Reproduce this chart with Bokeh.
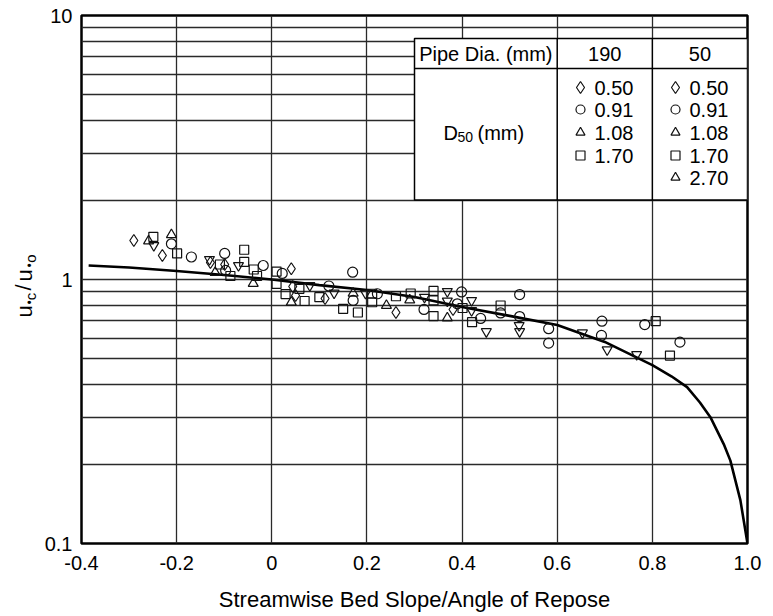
import numpy as np
from bokeh.plotting import figure
from bokeh.layouts import row
from bokeh.models import Range1d, FixedTicker, CustomJSTickFormatter, Label
from bokeh.embed import file_html
from bokeh.resources import INLINE

# ---------------- data ----------------
x_ticks = [-0.4, -0.2, 0.0, 0.2, 0.4, 0.6, 0.8, 1.0]
y_ticks = [0.1, 1, 10]
y_minor = [0.2, 0.3, 0.4, 0.5, 0.6, 0.7, 0.8, 0.9, 2, 3, 4, 5, 6, 7, 8, 9]

curve_x = [-0.385, -0.3, -0.2, -0.1, 0.0, 0.1, 0.2, 0.3, 0.4, 0.5, 0.6, 0.7,
           0.8, 0.84, 0.873, 0.9, 0.922, 0.95, 0.964, 0.985, 1.0]
curve_y = [1.13, 1.11, 1.077, 1.04, 1.0, 0.952, 0.912, 0.858, 0.787, 0.728, 0.672, 0.58,
           0.474, 0.43, 0.391, 0.342, 0.301, 0.238, 0.206, 0.146, 0.1]

diamond_x = [-0.290, -0.230, -0.129, -0.099, 0.041, 0.044, 0.050, 0.112, 0.261, 0.381]
diamond_y = [1.405, 1.233, 1.160, 1.140, 1.098, 0.941, 0.870, 0.847, 0.750, 0.770]

circle_x = [-0.211, -0.169, -0.099, -0.097, -0.018, 0.022, 0.120, 0.170, 0.171, 0.222,
            0.320, 0.399, 0.390, 0.439, 0.481, 0.521, 0.521, 0.582, 0.582, 0.694,
            0.693, 0.784, 0.858]
circle_y = [1.365, 1.217, 1.255, 1.082, 1.130, 1.054, 0.945, 1.066, 0.833, 0.883,
            0.770, 0.897, 0.809, 0.712, 0.747, 0.877, 0.724, 0.651, 0.574, 0.695,
            0.614, 0.675, 0.579]

triangle_x = [-0.259, -0.211, -0.119, -0.039, 0.041, 0.171, 0.241, 0.290, 0.369]
triangle_y = [1.399, 1.478, 1.063, 0.966, 0.820, 0.887, 0.797, 0.836, 0.715]

square_x = [-0.249, -0.199, -0.109, -0.087, -0.058, -0.058, -0.038, -0.031, 0.010, 0.010,
            0.029, 0.058, 0.069, 0.100, 0.150, 0.181, 0.211, 0.211, 0.261, 0.292,
            0.340, 0.340, 0.340, 0.401, 0.421, 0.481, 0.807, 0.837]
square_y = [1.451, 1.255, 1.140, 1.031, 1.296, 1.167, 1.091, 1.031, 1.072, 0.962,
            0.881, 0.922, 0.829, 0.857, 0.774, 0.750, 0.883, 0.820, 0.864, 0.885,
            0.905, 0.833, 0.727, 0.780, 0.689, 0.797, 0.695, 0.515]

invtri_x = [-0.248, -0.131, -0.070, 0.080, 0.131, 0.197, 0.321, 0.369, 0.369, 0.420,
            0.420, 0.451, 0.520, 0.521, 0.653, 0.705, 0.767]
invtri_y = [1.345, 1.191, 1.130, 0.949, 0.889, 0.887, 0.857, 0.901, 0.829, 0.833,
            0.763, 0.635, 0.670, 0.635, 0.628, 0.542, 0.520]

# table (legend) contents
pipe_header = "Pipe Dia. (mm)"
pipe_dias = ["190", "50"]
d50_190 = ["0.50", "0.91", "1.08", "1.70"]
mk_190 = ["diamond", "circle", "triangle", "square"]
d50_50 = ["0.50", "0.91", "1.08", "1.70", "2.70"]
mk_50 = ["diamond", "circle", "triangle", "square", "triangle"]

# ---------------- layout helpers (page pixels -> data, for annotations) ----------------
FONT = "Liberation Sans"
W, H = 772, 615          # whole page content
LW = 41                  # narrow left panel holding the rotated y title
FL, FR, FT, FB = 81, 747, 15, 543   # main frame edges, page pixels
MW = W - LW


def px2x(px):
    return -0.4 + (px - FL) / (FR - FL) * 1.4


def py2y(py):
    return 10 ** (1 - (py - FT) / (FB - FT) * 2)


p = figure(width=MW, height=H, x_range=Range1d(-0.4, 1.0), y_range=Range1d(0.1, 10),
           y_axis_type="log", output_backend="svg", toolbar_location=None,
           min_border_left=FL - LW, min_border_right=W - FR, min_border_top=FT,
           min_border_bottom=H - FB)
p.outline_line_color = "black"
p.outline_line_width = 2.5
p.outline_line_alpha = 1.0
p.background_fill_color = "white"
p.border_fill_color = "white"

p.xaxis.ticker = FixedTicker(ticks=x_ticks)
p.yaxis.ticker = FixedTicker(ticks=y_ticks, minor_ticks=y_minor)
p.xaxis.formatter = CustomJSTickFormatter(
    code="return Math.abs(tick) < 1e-9 ? '0' : tick.toFixed(1);")
p.yaxis.formatter = CustomJSTickFormatter(
    code="return tick >= 1 ? tick.toFixed(0) : tick.toFixed(1);")

for ax in (p.xaxis, p.yaxis):
    ax.axis_line_color = None
    ax.major_tick_line_color = None
    ax.minor_tick_line_color = None
    ax.major_label_text_font = FONT
    ax.major_label_text_font_size = "20px"
    ax.major_label_text_color = "black"
    ax.major_label_standoff = 6
p.yaxis.major_label_standoff = 3

p.xaxis.axis_label = "Streamwise Bed Slope/Angle of Repose"
p.xaxis.axis_label_text_font = FONT
p.xaxis.axis_label_text_font_size = "22px"
p.xaxis.axis_label_text_font_style = "normal"
p.xaxis.axis_label_text_color = "black"
p.xaxis.axis_label_standoff = 14

for g in (p.xgrid, p.ygrid):
    g.grid_line_color = "#2a2a2a"
    g.grid_line_width = 1.3
    g.grid_line_alpha = 1.0
p.ygrid.minor_grid_line_color = "#2a2a2a"
p.ygrid.minor_grid_line_width = 1.3

# ---------------- table box ----------------
T_L, T_R, T_TOP, T_ROW, T_BOT = 0.3, 1.0, py2y(38), py2y(68), 2.0
C1, C2 = 0.6, 0.8
p.quad(left=[T_L], right=[T_R], top=[T_TOP], bottom=[T_BOT], fill_color="white",
       line_color="black", line_width=1.5)
p.segment(x0=[T_L, C1, C2], y0=[T_ROW, T_TOP, T_TOP], x1=[T_R, C1, C2],
          y1=[T_ROW, T_BOT, T_BOT], line_color="black", line_width=1.5)

hdr_y = np.sqrt(T_TOP * T_ROW)
for xx, txt in (((T_L + C1) / 2, pipe_header), ((C1 + C2) / 2, pipe_dias[0]),
                ((C2 + T_R) / 2, pipe_dias[1])):
    p.add_layout(Label(x=xx, y=hdr_y, text=txt, text_align="center",
                       text_baseline="middle", text_font=FONT, text_font_size="20px",
                       text_color="black"))
# D50 (mm)
p.add_layout(Label(x=px2x(443), y=py2y(132), text="D", text_align="left",
                   text_baseline="alphabetic", text_font=FONT, text_font_size="20px",
                   text_color="black"))
p.add_layout(Label(x=px2x(457), y=py2y(136), text="50", text_align="left",
                   text_baseline="alphabetic", text_font=FONT, text_font_size="14px",
                   text_color="black"))
p.add_layout(Label(x=px2x(477), y=py2y(132), text="(mm)", text_align="left",
                   text_baseline="alphabetic", text_font=FONT, text_font_size="20px",
                   text_color="black"))

row_py = [87, 109, 132, 155, 177]
for col_mk, col_txt, (mx, tx) in ((mk_190, d50_190, (580, 594)), (mk_50, d50_50, (675, 689))):
    for i, (mk, txt) in enumerate(zip(col_mk, col_txt)):
        yy = py2y(row_py[i])
        p.scatter([px2x(mx)], [yy], marker=mk, size=9 if mk != "diamond" else 12,
                  fill_color=None, line_color="#111111", line_width=1.2)
        p.add_layout(Label(x=px2x(tx), y=yy, text=txt, text_align="left",
                           text_baseline="middle", text_font=FONT, text_font_size="20px",
                           text_color="black"))

# ---------------- curve and data ----------------
p.line(curve_x, curve_y, line_color="black", line_width=2.6)

mstyle = dict(fill_color=None, line_color="#111111", line_width=1.2)
p.scatter(diamond_x, diamond_y, marker="diamond", size=12, **mstyle)
p.scatter(circle_x, circle_y, marker="circle", size=10, **mstyle)
p.scatter(triangle_x, triangle_y, marker="triangle", size=10, **mstyle)
p.scatter(square_x, square_y, marker="square", size=9, **mstyle)
p.scatter(invtri_x, invtri_y, marker="inverted_triangle", size=10, **mstyle)

# ---------------- left panel: y axis title u*c/u*o (rotated, with subscripts) ----------------
# same vertical structure as the main plot, so its frame lines up with it
q = figure(width=LW, height=H, x_range=Range1d(0, LW), y_range=p.y_range,
           y_axis_type="log", x_axis_location=None, y_axis_location=None,
           output_backend="svg", toolbar_location=None,
           min_border_left=0, min_border_right=0, min_border_top=FT,
           min_border_bottom=H - FB)
q.outline_line_color = None
q.grid.visible = False
q.background_fill_color = "white"
q.border_fill_color = "white"
# (text, centre y on page, centre x, size)
ylab = [("u", 311, 24, "22px"), ("\u2022", 302, 29, "12px"), ("c", 296, 30, "15px"),
        ("/", 287, 23, "22px"), ("u", 275, 24, "22px"), ("\u2022", 265, 29, "12px"),
        ("o", 258, 30, "15px")]
for txt, py, px, fs in ylab:
    q.add_layout(Label(x=px, y=py2y(py), text=txt, angle=np.pi / 2,
                       text_align="center", text_baseline="middle", text_font=FONT,
                       text_font_size=fs, text_color="black"))

layout = row(q, p)
open("out.html", "w").write(file_html(layout, INLINE))
